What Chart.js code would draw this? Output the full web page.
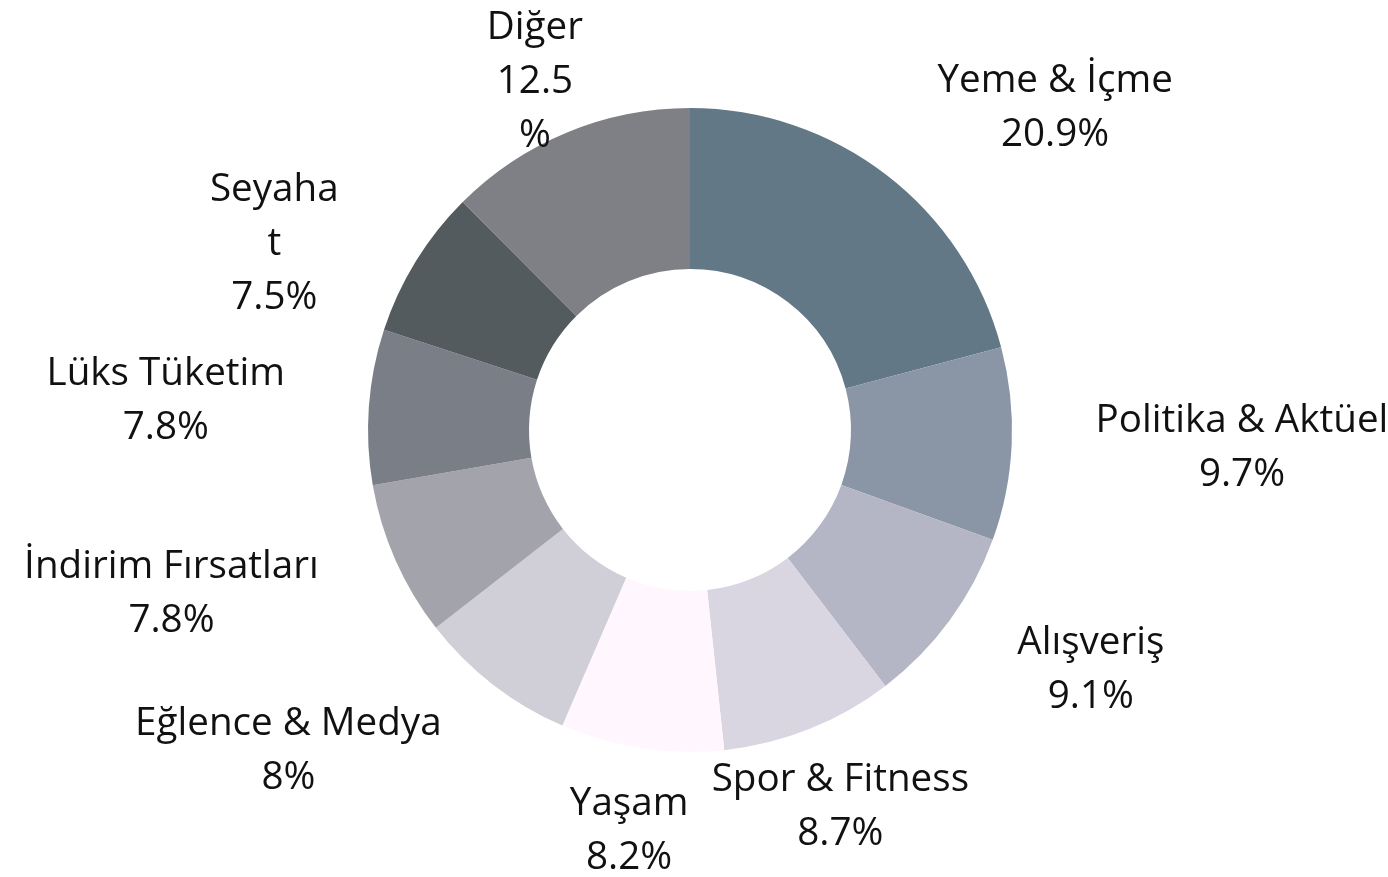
<!DOCTYPE html>
<html>
<head>
<meta charset="utf-8">
<script src="https://cdn.jsdelivr.net/npm/chart.js@4/dist/chart.umd.min.js"></script>
<style>
  html, body { margin: 0; padding: 0; background: #fff; }
  #wrap { width: 1388px; height: 877px; }
</style>
</head>
<body>
<div id="wrap"><canvas id="donut"></canvas></div>
<script>
// categories and shares (%)
var categories = ['Yeme & İçme', 'Politika & Aktüel', 'Alışveriş', 'Spor & Fitness', 'Yaşam',
  'Eğlence & Medya', 'İndirim Fırsatları', 'Lüks Tüketim', 'Seyahat', 'Diğer'];
var shares = [20.9, 9.7, 9.1, 8.7, 8.2, 8, 7.8, 7.8, 7.5, 12.5];
var sliceColors = ['#627886', '#8a95a5', '#b4b5c5', '#d9d6e2', '#fff7fd',
  '#d0ced6', '#a3a3ab', '#7a7e86', '#545b5f', '#7e8085'];

// Wrap text into lines no wider than maxWidth (breaks words by character if needed).
function wrapText(ctx, text, maxWidth) {
  var out = [];
  text.split('\n').forEach(function(para) {
    if (!maxWidth || ctx.measureText(para).width <= maxWidth) { out.push(para); return; }
    var line = '';
    for (var i = 0; i < para.length; i++) {
      var test = line + para[i];
      if (line && ctx.measureText(test).width > maxWidth) {
        out.push(line);
        line = para[i] === ' ' ? '' : para[i];
      } else {
        line = test;
      }
    }
    if (line) out.push(line);
  });
  return out;
}

// Draws "name / value%" outside each slice.
var outsideLabels = {
  id: 'outsideLabels',
  afterDatasetsDraw: function(chart, args, opts) {
    var ctx = chart.ctx;
    var meta = chart.getDatasetMeta(0);
    ctx.save();
    ctx.font = opts.font;
    ctx.fillStyle = opts.color;
    ctx.textBaseline = 'middle';
    ctx.textAlign = 'center';
    meta.data.forEach(function(arc, i) {
      var p = arc.getProps(['x', 'y', 'startAngle', 'endAngle', 'outerRadius'], true);
      var mid = (p.startAngle + p.endAngle) / 2;
      var r = p.outerRadius + opts.offset;
      var ax = p.x + Math.cos(mid) * r;
      var ay = p.y + Math.sin(mid) * r;
      var maxW = opts.maxWidths[i];
      var lines = wrapText(ctx, categories[i] + '\n' + shares[i] + '%', maxW);
      var blockW = 0;
      lines.forEach(function(l) { blockW = Math.max(blockW, ctx.measureText(l).width); });
      if (lines.length > 2 && maxW) blockW = maxW;
      var c = Math.cos(mid);
      var cx;
      if (c > 0.5) cx = ax + blockW / 2;
      else if (c < -0.5) cx = ax - blockW / 2;
      else cx = ax;
      var y0 = ay - opts.lineHeight / 2;
      lines.forEach(function(l, k) {
        ctx.fillText(l, cx, y0 + k * opts.lineHeight);
      });
    });
    ctx.restore();
  }
};

createDonut();

function createDonut() {
  var ctx = document.getElementById('donut').getContext('2d');
  return new Chart(ctx, {
    type: 'doughnut',
    data: {
      labels: categories,
      datasets: [{
        data: shares,
        backgroundColor: sliceColors,
        borderWidth: 0
      }]
    },
    options: {
      responsive: true,
      maintainAspectRatio: false,
      animation: false,
      cutout: '50%',
      layout: { padding: { top: 108, bottom: 125, left: 368, right: 376 } },
      plugins: {
        legend: { display: false },
        tooltip: { enabled: false },
        outsideLabels: {
          font: '38.6px "Open Sans"',
          color: '#111',
          offset: 84,
          lineHeight: 54,
          maxWidths: { 8: 140, 9: 100 }
        }
      }
    },
    plugins: [outsideLabels]
  });
}
</script>
</body>
</html>
